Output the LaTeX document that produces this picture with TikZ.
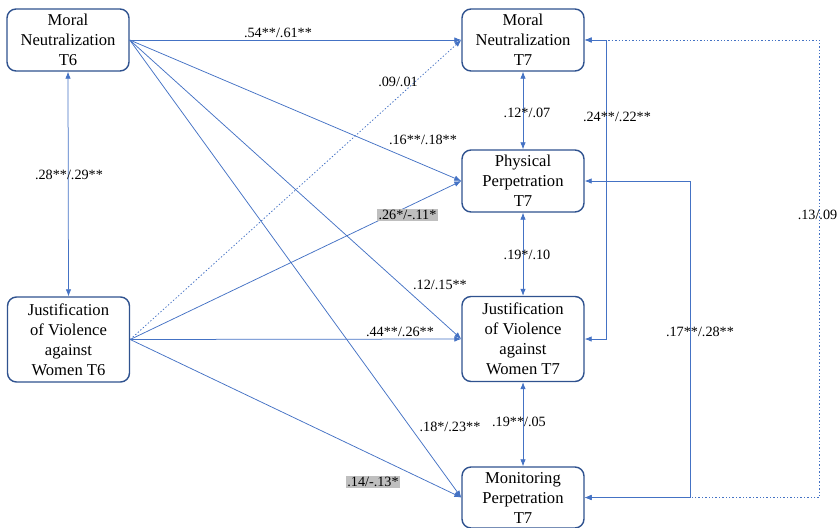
\documentclass[tikz,border=0pt]{standalone}
\usepackage{fontspec}
\setmainfont{Liberation Serif}
\usetikzlibrary{arrows.meta}
\definecolor{nodeblue}{HTML}{2F528F}
\definecolor{lineblue}{HTML}{4472C4}
\definecolor{labgray}{HTML}{BFBFBF}
\begin{document}
\begin{tikzpicture}[x=1pt,y=-1pt,
  box/.style={draw=nodeblue, line width=1.4pt, rounded corners=9pt, align=center,
    font=\fontsize{16.6}{20}\selectfont, inner sep=0pt, fill=white, minimum width=122pt},
  tip/.tip={Latex[length=7pt,width=5.5pt]},
  conn/.style={draw=lineblue, line width=0.75pt, -tip},
  biconn/.style={draw=lineblue, line width=0.75pt, tip-tip},
  dotline/.style={dash pattern=on 1.4pt off 2pt},
  lab/.style={font=\fontsize{14.2}{16}\selectfont, inner sep=1pt},
  glab/.style={lab, fill=labgray, inner sep=1.5pt}
]
\useasboundingbox (0,0) rectangle (837,527);

% nodes
\node[box, minimum height=62pt] (mn6) at (68,40) {Moral\\Neutralization\\T6};
\node[box, minimum height=85pt] (jv6) at (68.5,339.5) {Justification\\of Violence\\against\\Women T6};
\node[box, minimum height=62pt] (mn7) at (523,40) {Moral\\Neutralization\\T7};
\node[box, minimum height=62pt] (pp7) at (523,181) {Physical\\Perpetration\\T7};
\node[box, minimum height=85pt] (jv7) at (523,339) {Justification\\of Violence\\against\\Women T7};
\node[box, minimum height=61pt] (mt7) at (523,497.5) {Monitoring\\Perpetration\\T7};

% cross-lagged paths
\draw[conn] (mn6.east) -- (mn7.west);
\draw[conn] (mn6.east) -- (pp7.west);
\draw[conn] (mn6.east) -- (jv7.west);
\draw[conn] (mn6.east) -- (mt7.west);
\draw[conn, dotline] (jv6.east) -- (mn7.west);
\draw[conn] (jv6.east) -- (pp7.west);
\draw[conn] (jv6.east) -- (jv7.west);
\draw[conn] (jv6.east) -- (mt7.west);

% correlations
\draw[biconn] (mn6.south) -- (jv6.north);
\draw[biconn] (mn7.south) -- (pp7.north);
\draw[biconn] (pp7.south) -- (jv7.north);
\draw[biconn] (jv7.south) -- (mt7.north);
\draw[biconn, dotline] (mn7.east) -- ++(235,0) |- (mt7.east);
\draw[biconn] (mn7.east) -- ++(22,0) |- (jv7.east);
\draw[biconn] (pp7.east) -- ++(106,0) |- (mt7.east);

% labels
\node[lab] (l1) at (278,33) {.54**/.61**};
\node[lab] (l2) at (398,82) {.09/.01};
\node[lab] (l3) at (423,140) {.16**/.18**};
\node[glab] (l4) at (407.5,215) {.26*/-.11*};
\node[lab] (l5) at (440,285) {.12/.15**};
\node[lab] (l6) at (400,332) {.44**/.26**};
\node[lab] (l7) at (450,427) {.18*/.23**};
\node[glab] (l8) at (373,482) {.14/-.13*};
\node[lab] (l9) at (69,175) {.28**/.29**};
\node[lab] (l10) at (527,113) {.12*/.07};
\node[lab] (l11) at (527,255) {.19*/.10};
\node[lab] (l12) at (519,422) {.19**/.05};
\node[lab] (l13) at (617,117) {.24**/.22**};
\node[lab] (l14) at (700,332) {.17**/.28**};
\node[lab] (l15) at (817.5,215) {.13/.09};
\end{tikzpicture}
\end{document}
